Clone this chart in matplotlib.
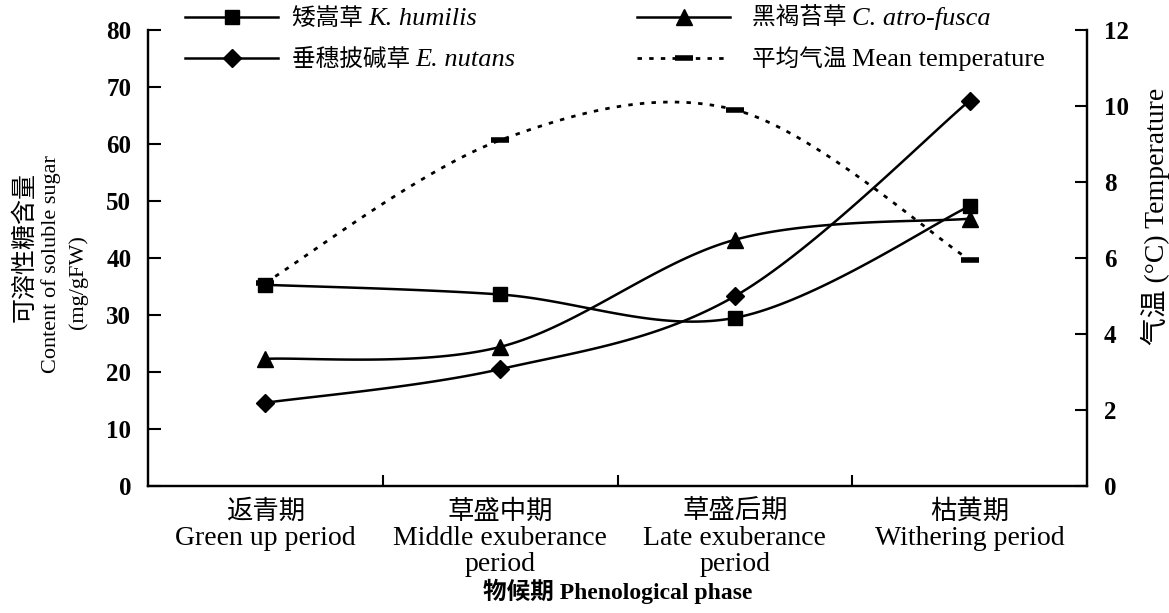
import numpy as np
import matplotlib
matplotlib.use("Agg")
import matplotlib.pyplot as plt
from matplotlib.lines import Line2D

SERIF = ['Liberation Serif', 'Noto Sans CJK SC']
CJK = ['Noto Sans CJK SC', 'Liberation Serif']
plt.rcParams['font.family'] = SERIF

# ---- data ----
phase_cn = ["返青期", "草盛中期", "草盛后期", "枯黄期"]
phase_en = ["Green up period", "Middle exuberance\nperiod", "Late exuberance\nperiod", "Withering period"]
k_humilis = [35.3, 33.6, 29.5, 49.1]
c_atrofusca = [22.3, 24.4, 43.2, 46.9]
e_nutans = [14.6, 20.5, 33.3, 67.6]
mean_temp = [5.35, 9.1, 9.9, 5.95]

left_ticks = [0, 10, 20, 30, 40, 50, 60, 70, 80]
right_ticks = [0, 2, 4, 6, 8, 10, 12]

legend_cn = ["矮嵩草", "垂穗披碱草", "黑褐苔草", "平均气温"]
legend_en = ["K. humilis", "E. nutans", "C. atro-fusca", "Mean temperature"]


def smooth(x, y, n=40):
    """Excel-style smoothed line (Catmull-Rom Bezier) through the points."""
    P = np.column_stack([np.asarray(x, float), np.asarray(y, float)])
    ext = np.vstack([P[0], P, P[-1]])
    out = []
    t = np.linspace(0, 1, n)[:, None]
    for i in range(len(P) - 1):
        p0, p1, p2, p3 = ext[i], ext[i + 1], ext[i + 2], ext[i + 3]
        c1 = p1 + (p2 - p0) / 6.0
        c2 = p2 - (p3 - p1) / 6.0
        seg = ((1 - t) ** 3) * p1 + 3 * ((1 - t) ** 2) * t * c1 + 3 * (1 - t) * t ** 2 * c2 + t ** 3 * p2
        out.append(seg if i == 0 else seg[1:])
    s = np.vstack(out)
    return s[:, 0], s[:, 1]


W, H = 1169, 613
fig = plt.figure(figsize=(W / 100, H / 100), dpi=100)
ax = fig.add_axes([148 / W, 1 - 486 / H, (1087 - 148) / W, (486 - 30) / H])
ax2 = ax.twinx()

xs = np.arange(len(phase_cn))
lw = 1.8
styles = [('s', 9.5), ('^', 11), ('D', 9)]
series = [k_humilis, c_atrofusca, e_nutans]
for vals, (mk, ms) in zip(series, styles):
    sx, sy = smooth(xs, vals)
    ax.plot(sx, sy, color='black', lw=lw, zorder=3)
    ax.plot(xs, vals, linestyle='none', marker=mk, ms=ms, color='black', zorder=4)

temp_ls = (0, (1.6, 2.6))
tx, ty = smooth(xs, mean_temp)
ax2.plot(tx, ty, color='black', lw=2.0, linestyle=temp_ls, zorder=3)
ax2.plot(xs, mean_temp, linestyle='none', marker='_', ms=13, mew=4, color='black', zorder=4)

ax.set_xlim(-0.5, 3.5)
ax.set_ylim(0, 80)
ax2.set_ylim(0, 12)
ax.set_yticks(left_ticks)
ax2.set_yticks(right_ticks)
ax.set_xticks(xs)
ax.set_xticklabels([])
ax.set_xticks([0.5, 1.5, 2.5], minor=True)
ax.tick_params(axis='x', which='major', length=0)
ax.tick_params(axis='x', which='minor', direction='in', length=8, width=1.5)
ax.tick_params(axis='y', direction='in', length=9, width=1.5, labelsize=18, pad=12)
ax2.tick_params(axis='y', direction='in', length=9, width=1.5, labelsize=18, pad=12)
for lab in ax.get_yticklabels() + ax2.get_yticklabels():
    lab.set_fontweight('bold')

for a in (ax, ax2):
    a.spines['top'].set_visible(False)
    for s in ('left', 'right', 'bottom'):
        a.spines[s].set_linewidth(1.6)

# category labels (Chinese line + English lines)
xtr = ax.get_xaxis_transform()
for i in xs:
    ax.text(i, (486 - 511) / 456, phase_cn[i], transform=xtr, ha='center', va='center',
            family=CJK, fontsize=19)
    ax.text(i, (486 - 526) / 456, phase_en[i], transform=xtr, ha='center', va='top',
            family=SERIF, fontsize=20, linespacing=1.05)
ax.text(0.5, (486 - 591) / 456, "物候期 Phenological phase", transform=ax.transAxes,
        ha='center', va='center', fontsize=17, fontweight='bold', family=SERIF)

# left axis title (three lines)
ax.text((25 - 148) / 939, (486 - 247) / 456, "可溶性糖含量", transform=ax.transAxes,
        rotation=90, ha='center', va='center', family=CJK, fontsize=18)
ax.text((51 - 148) / 939, (486 - 264) / 456, "Content of soluble sugar", transform=ax.transAxes,
        rotation=90, ha='center', va='center', family=SERIF, fontsize=16)
ax.text((78 - 148) / 939, (486 - 282) / 456, "(mg/gFW)", transform=ax.transAxes,
        rotation=90, ha='center', va='center', family=SERIF, fontsize=16)

# right axis title
ax.text((1155 - 148) / 939, (486 - 216) / 456, "气温 (°C) Temperature", transform=ax.transAxes,
        rotation=90, ha='center', va='center', family=SERIF, fontsize=20)

# legend (built piecewise so Chinese and italic Latin can be mixed)
def px(x, y):
    return x / W, 1 - y / H

leg_handles = [
    dict(marker='s', ms=9.5, ls='-', lw=lw, mew=1),
    dict(marker='D', ms=9, ls='-', lw=lw, mew=1),
    dict(marker='^', ms=11, ls='-', lw=lw, mew=1),
    dict(marker='_', ms=13, ls=temp_ls, lw=2.0, mew=4),
]
leg_pos = [(185, 278, 292, 17), (185, 278, 292, 58), (637, 730, 752, 17), (637, 730, 752, 58)]
fig.canvas.draw()
renderer = fig.canvas.get_renderer()
for k, (h, (x0, x1, xt, yc)) in enumerate(zip(leg_handles, leg_pos)):
    (fx0, fy), (fx1, _) = px(x0, yc), px(x1, yc)
    fig.add_artist(Line2D([fx0, fx1], [fy, fy], transform=fig.transFigure, color='black',
                          lw=h['lw'], linestyle=h['ls']))
    fig.add_artist(Line2D([(fx0 + fx1) / 2], [fy], transform=fig.transFigure, color='black',
                          marker=h['marker'], ms=h['ms'], mew=h['mew'], linestyle='none'))
    bx, by = px(xt, yc + 8)
    t1 = fig.text(bx, by, legend_cn[k] + " ", family=CJK, fontsize=17, va='baseline', ha='left')
    wpx = t1.get_window_extent(renderer).width
    style = 'normal' if k == 3 else 'italic'
    fig.text(bx + wpx / W, by, legend_en[k], family=SERIF, fontsize=19,
             fontstyle=style, va='baseline', ha='left')

fig.savefig("out.png", dpi=100)
